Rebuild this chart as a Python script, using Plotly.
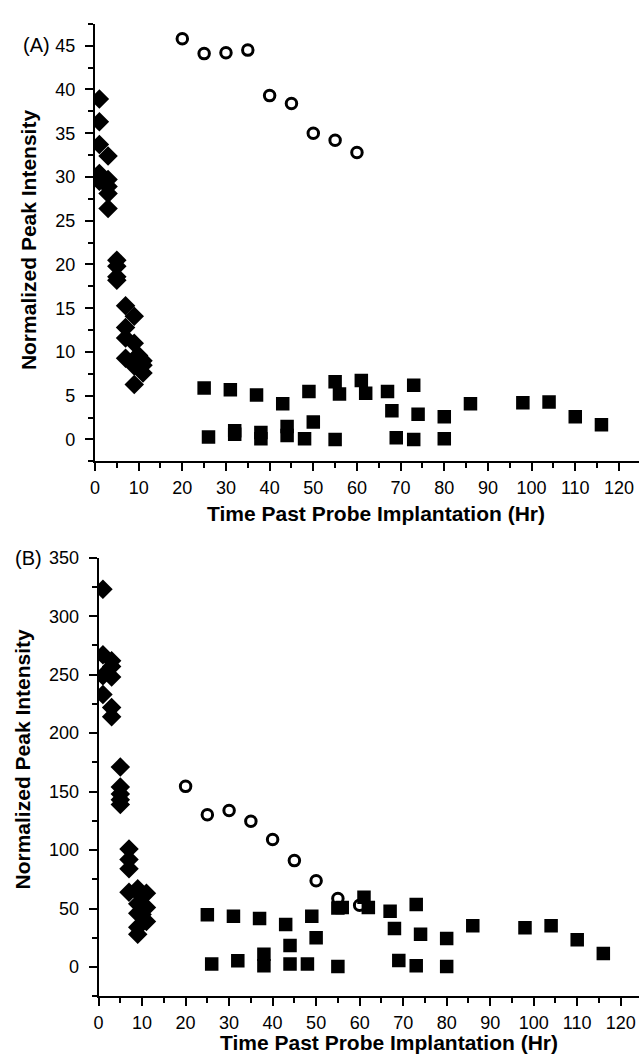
import plotly.graph_objects as go

# ---------------- Panel A data ----------------
a_dia_x = [1, 1, 1, 1, 1, 3, 3, 3, 3, 3, 5, 5, 5, 5, 7, 7, 7, 7, 9, 9, 9, 9, 9, 10, 11, 11, 11]
a_dia_y = [38.9, 36.3, 33.7, 30.4, 29.5, 32.4, 29.7, 28.9, 28.1, 26.4,
           20.5, 19.8, 18.6, 18.2, 15.3, 12.8, 11.6, 9.3,
           14.1, 11.0, 9.2, 8.4, 6.3, 9.6, 9.0, 8.5, 7.6]

a_circ_x = [20, 25, 30, 35, 40, 45, 50, 55, 60]
a_circ_y = [45.8, 44.1, 44.2, 44.5, 39.3, 38.4, 35.0, 34.2, 32.8]

a_sq_x = [25, 26, 31, 32, 32, 37, 38, 38, 43, 44, 44, 48, 49, 50, 55, 55, 56,
          61, 62, 67, 68, 69, 73, 73, 74, 80, 80, 86, 98, 104, 110, 116]
a_sq_y = [5.9, 0.3, 5.7, 1.0, 0.6, 5.1, 0.8, 0.1, 4.1, 1.5, 0.45, 0.1, 5.5, 2.0, 0.0, 6.6, 5.2,
          6.75, 5.3, 5.5, 3.3, 0.2, 6.2, 0.0, 2.9, 2.6, 0.1, 4.1, 4.2, 4.3, 2.6, 1.7]

# ---------------- Panel B data ----------------
b_dia_x = [1, 1, 1, 1, 3, 3, 3, 3, 3, 5, 5, 5, 5, 5, 7, 7, 7, 7, 9, 9, 9, 9, 9, 10, 10, 11, 11, 11]
b_dia_y = [323, 267, 249, 233, 262, 257, 248, 222, 214,
           171, 154, 148, 143, 139, 101, 92, 84, 64,
           67, 54, 46, 34, 28, 60, 45, 63, 51, 39]

b_circ_x = [20, 25, 30, 35, 40, 45, 50, 55, 60]
b_circ_y = [154.5, 130.2, 133.9, 124.6, 109, 91, 73.7, 58.5, 52.8]

b_sq_x = [25, 26, 31, 32, 37, 38, 38, 43, 44, 44, 48, 49, 50, 55, 55, 56,
          61, 62, 67, 68, 69, 73, 73, 74, 80, 80, 86, 98, 104, 110, 116]
b_sq_y = [44.6, 2.5, 43.5, 5.3, 41.5, 11, 1, 36.4, 18.3, 2.5, 2.5, 43.5, 25, 0.5, 50.5, 51,
          59.6, 51, 47.7, 33, 5.5, 53.4, 1, 28, 24.3, 0.5, 35.3, 33.6, 35.3, 23.4, 11.5]

x_title = "Time Past Probe Implantation (Hr)"
y_title = "Normalized Peak Intensity"

FONT = "Liberation Sans, Arial, sans-serif"
W, H = 639, 1054


def px(v):
    return v / W


def py(v):
    return 1 - v / H


fig = go.Figure()


def add_panel(dx, dy, cx, cy, sx, sy, xa, ya):
    fig.add_trace(go.Scatter(x=dx, y=dy, mode="markers", xaxis=xa, yaxis=ya,
                             marker=dict(symbol="diamond", size=15, color="black",
                                         line=dict(width=0)), showlegend=False))
    fig.add_trace(go.Scatter(x=cx, y=cy, mode="markers", xaxis=xa, yaxis=ya,
                             marker=dict(symbol="circle-open", size=10.5, color="black",
                                         line=dict(width=3, color="black")), showlegend=False))
    fig.add_trace(go.Scatter(x=sx, y=sy, mode="markers", xaxis=xa, yaxis=ya,
                             marker=dict(symbol="square", size=13.5, color="black",
                                         line=dict(width=0)), showlegend=False))


add_panel(a_dia_x, a_dia_y, a_circ_x, a_circ_y, a_sq_x, a_sq_y, "x", "y")
add_panel(b_dia_x, b_dia_y, b_circ_x, b_circ_y, b_sq_x, b_sq_y, "x2", "y2")

tickfont = dict(family=FONT, size=18, color="black")


def xaxis(domain, rng, anchor):
    return dict(domain=domain, range=rng, anchor=anchor, showgrid=False, zeroline=False,
                showline=True, linecolor="black", linewidth=2,
                ticks="outside", ticklen=8, tickwidth=2, tickcolor="black",
                dtick=10, tick0=0, tickfont=tickfont, ticklabelstandoff=1,
                minor=dict(dtick=5, tick0=0, ticks="outside", ticklen=5, tickwidth=2,
                           tickcolor="black", showgrid=False))


def yaxis(domain, rng, anchor, dt, mdt):
    return dict(domain=domain, range=rng, anchor=anchor, showgrid=False, zeroline=False,
                showline=True, linecolor="black", linewidth=2,
                ticks="outside", ticklen=8, tickwidth=2, tickcolor="black",
                dtick=dt, tick0=0, tickfont=tickfont, ticklabelstandoff=6,
                minor=dict(dtick=mdt, tick0=0, ticks="outside", ticklen=5, tickwidth=2,
                           tickcolor="black", showgrid=False))


fig.update_layout(
    width=W, height=H,
    margin=dict(l=0, r=0, t=0, b=0),
    paper_bgcolor="white", plot_bgcolor="white",
    font=dict(family=FONT, color="black"),
    xaxis=xaxis([px(90.7), 1], [0, 124.6], "y"),
    yaxis=yaxis([py(455.7), py(14)], [-2.5, 47.5], "x", 5, 2.5),
    xaxis2=xaxis([px(94.3), 1], [0, 124.2], "y2"),
    yaxis2=yaxis([py(995.7), py(553)], [-25, 350], "x2", 50, 25),
)

title_font = dict(family=FONT, size=21, color="black")
label_font = dict(family=FONT, size=20, color="black")

annotations = [
    dict(text="<b>" + x_title + "</b>", x=px(373.8), y=py(508.3), font=title_font),
    dict(text="<b>" + x_title + "</b>", x=px(387), y=py(1042.5), font=title_font),
    dict(text="<b>" + y_title + "</b>", x=px(23), y=py(231.5), font=title_font, textangle=-90),
    dict(text="<b>" + y_title + "</b>", x=px(18), y=py(755.8), font=title_font, textangle=-90),
    dict(text="(A)", x=px(31.7), y=py(35), font=label_font),
    dict(text="(B)", x=px(23.7), y=py(553), font=label_font),
]
for a in annotations:
    a.update(xref="paper", yref="paper", showarrow=False, xanchor="center", yanchor="middle")
fig.update_layout(annotations=annotations)

fig.write_html(
    "out.html",
    config={"displayModeBar": False},
    post_script="document.documentElement.style.margin='0';"
                "document.body.style.margin='0';"
                "document.body.style.overflow='hidden';",
)
